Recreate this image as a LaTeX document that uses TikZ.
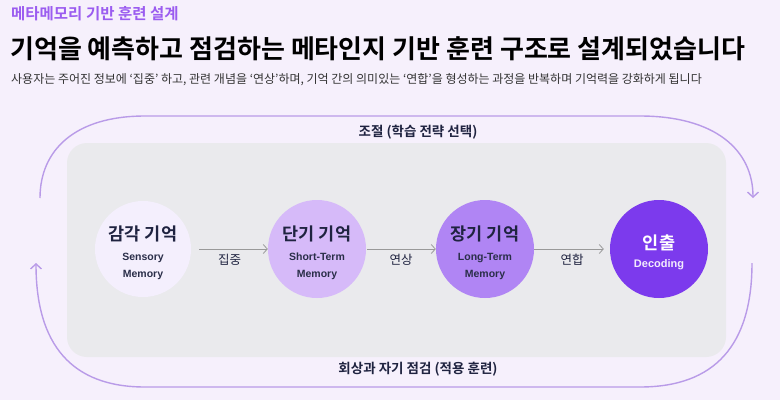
\documentclass[tikz,border=0pt]{standalone}
\usepackage{fontspec}
\setmainfont{Noto Sans CJK KR}[BoldFont={Noto Sans CJK KR Bold}]
\newfontfamily\latinsf{Liberation Sans}[BoldFont={Liberation Sans Bold}]
\usepackage{tikz}
\usepackage{xcolor}
\usetikzlibrary{calc,arrows.meta}

\definecolor{pagebg}{HTML}{F6F0FC}
\definecolor{boxbg}{HTML}{EAEAED}
\definecolor{loopc}{HTML}{B99BE8}
\definecolor{headc}{HTML}{9B5CF0}
\definecolor{inkc}{HTML}{1F2340}
\definecolor{fillA}{HTML}{F4EFFD}
\definecolor{fillB}{HTML}{D6BAF9}
\definecolor{fillC}{HTML}{B085F4}
\definecolor{fillD}{HTML}{7C3AED}

\begin{document}
\begin{tikzpicture}[x=1pt,y=-1pt]
    \tikzstyle{every node}=[inner sep=0pt,text=inkc]
    \tikzstyle{mem}=[circle,minimum size=98pt,align=center]
    \tikzstyle{kor}=[font=\fontsize{17.5}{19}\selectfont\bfseries]
    \tikzstyle{eng}=[font=\latinsf\bfseries\fontsize{10.5}{17}\selectfont,align=center,text=inkc!95]
    \tikzstyle{flow}=[draw=gray!80,line width=0.8pt,-{Straight Barb[length=4pt,width=9pt]}]
    \tikzstyle{loop}=[draw=loopc,line width=1.4pt,-{Straight Barb[length=5pt,width=11pt]}]

    \fill[pagebg] (0,0) rectangle (780,400);
    \useasboundingbox (0,0) rectangle (780,400);

    \node[anchor=west,text=headc,font=\fontsize{15.5}{17}\selectfont\bfseries] (head) at (11,14) {메타메모리 기반 훈련 설계};
    \node[anchor=west,text=black,font=\fontsize{26}{30}\selectfont\bfseries] (title) at (10,49) {기억을 예측하고 점검하는 메타인지 기반 훈련 구조로 설계되었습니다};
    \node[anchor=west,text=black!80,font=\fontsize{12}{14}\selectfont] (sub) at (11,80) {사용자는 주어진 정보에 ‘집중’ 하고, 관련 개념을 ‘연상’하며, 기억 간의 의미있는 ‘연합’을 형성하는 과정을 반복하며 기억력을 강화하게 됩니다};

    \fill[boxbg,rounded corners=20pt] (67,143) rectangle (726,357);

    % outer loop
    \coordinate (ts) at (40,198);
    \coordinate (te) at (753,198);
    \coordinate (bs) at (752,263);
    \coordinate (be) at (36,263);
    \draw[loop] (ts) .. controls (40,150) and (75,116) .. (145,116) -- (640,116) .. controls (715,116) and (753,150) .. (te);
    \draw[loop] (bs) .. controls (752,345) and (715,387) .. (640,387) -- (145,387) .. controls (72,387) and (36,345) .. (be);
    \node[font=\fontsize{13.5}{15}\selectfont\bfseries] (adj) at (418,132) {조절 (학습 전략 선택)};
    \node[font=\fontsize{13.5}{15}\selectfont\bfseries] (rec) at (418,369) {회상과 자기 점검 (적용 훈련)};

    \node[mem,fill=fillA,minimum size=96pt] (m1) at (143,249) {};
    \node[mem,fill=fillB] (m2) at ($(m1) + (174,0)$) {};
    \node[mem,fill=fillC] (m3) at ($(m2) + (168,0)$) {};
    \node[mem,fill=fillD] (m4) at ($(m3) + (174,0)$) {};

    \node[kor] at ($(m1) + (0,-15)$) {감각 기억};
    \node[eng] at ($(m1) + (0,17)$) {Sensory\\Memory};
    \node[kor] at ($(m2) + (0,-15)$) {단기 기억};
    \node[eng] at ($(m2) + (0,17)$) {Short-Term\\Memory};
    \node[kor] at ($(m3) + (0,-15)$) {장기 기억};
    \node[eng] at ($(m3) + (0,17)$) {Long-Term\\Memory};
    \node[kor,text=white] at ($(m4) + (0,-6)$) {인출};
    \node[eng,text=white!90!fillD,font=\latinsf\bfseries\fontsize{11}{13}\selectfont] at ($(m4) + (0,16)$) {Decoding};

    \draw[flow,shorten <=8pt] (m1) -- (m2) node[midway,below=5pt,font=\fontsize{12.5}{14}\selectfont] {집중};
    \draw[flow,shorten <=1pt] (m2) -- (m3) node[midway,below=5pt,font=\fontsize{12.5}{14}\selectfont] {연상};
    \draw[flow,shorten >=6pt] (m3) -- (m4) node[midway,below=5pt,font=\fontsize{12.5}{14}\selectfont] {연합};

\end{tikzpicture}
\end{document}
